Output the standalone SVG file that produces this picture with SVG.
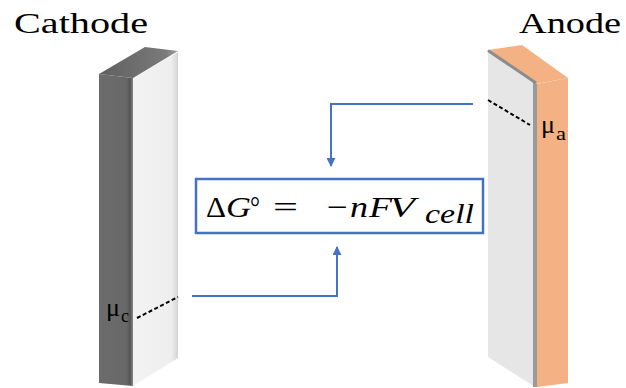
<svg xmlns="http://www.w3.org/2000/svg" width="626" height="388" viewBox="0 0 626 388">
<defs>
<style>
.conn{fill:none;stroke:#4472C4;stroke-width:2}
.dash{fill:none;stroke:#000;stroke-width:2;stroke-dasharray:4 2.5}
</style>
<marker id="arr" viewBox="0 0 10 10" refX="9" refY="5" markerWidth="4.5" markerHeight="4.5" orient="auto" markerUnits="strokeWidth">
<path d="M0,0 L10,5 L0,10 z" fill="#4472C4"/>
</marker>
<linearGradient id="gTopC" x1="0" y1="0" x2="1" y2="0">
<stop offset="0" stop-color="#5f5f5f"/>
<stop offset="0.85" stop-color="#7a7a7a"/>
<stop offset="1" stop-color="#a0a0a0"/>
</linearGradient>
<linearGradient id="gLightC" x1="0" y1="0" x2="1" y2="0">
<stop offset="0" stop-color="#f3f3f3"/>
<stop offset="0.85" stop-color="#eeeeee"/>
<stop offset="1" stop-color="#d4d4d4"/>
</linearGradient>
<linearGradient id="gDarkC" x1="0" y1="0" x2="1" y2="0">
<stop offset="0" stop-color="#6c6c6c"/>
<stop offset="0.8" stop-color="#686868"/>
<stop offset="0.92" stop-color="#555555"/>
<stop offset="1" stop-color="#8a8a8a"/>
</linearGradient>
</defs>
<rect width="626" height="388" fill="#fff"/>

<g id="cathode" font-family="'Liberation Serif', serif">
<polygon points="99,74 133,78 133,386 99,383" fill="url(#gDarkC)"/>
<polygon points="133,78 178,52 178,358 133,386" fill="url(#gLightC)"/>
<polygon points="99,74 145,47 178,51 133,78" fill="url(#gTopC)"/>
<text x="14" y="33" font-size="30" textLength="134" lengthAdjust="spacingAndGlyphs">Cathode</text>
<text x="106" y="316" font-size="25" textLength="14" lengthAdjust="spacingAndGlyphs">μ</text>
<text x="121" y="321.5" font-size="18" textLength="8" lengthAdjust="spacingAndGlyphs">c</text>
</g>

<g id="anode" font-family="'Liberation Serif', serif">
<polygon points="488,51 535,82 535,387 488,357" fill="#e6e6e6"/>
<polygon points="533,81 538,84 538,387 533,387" fill="#9a9a9a"/>
<polygon points="537,84 568,78 568,383 537,387" fill="#f4b183"/>
<polygon points="488,50 522,45 568,78 536,84" fill="#f4b183"/>
<line x1="488" y1="50.5" x2="536" y2="83" stroke="#8c8c8c" stroke-width="3"/>
<text x="519" y="33" font-size="30" textLength="102" lengthAdjust="spacingAndGlyphs">Anode</text>
<text x="541" y="133" font-size="25" textLength="14" lengthAdjust="spacingAndGlyphs">μ</text>
<text x="556" y="139.5" font-size="18" textLength="10" lengthAdjust="spacingAndGlyphs">a</text>
</g>

<g id="equation" font-family="'Liberation Serif', serif">
<rect x="196" y="179" width="287" height="54" fill="#fff" stroke="#4472C4" stroke-width="2.5"/>
<text x="206" y="216.5" font-size="30" textLength="20" lengthAdjust="spacingAndGlyphs">Δ</text>
<text x="226" y="216.5" font-size="30" font-style="italic" textLength="25" lengthAdjust="spacingAndGlyphs">G</text>
<text x="250" y="216.5" font-size="30" textLength="10" lengthAdjust="spacingAndGlyphs">°</text>
<text x="273" y="216.5" font-size="30" textLength="25" lengthAdjust="spacingAndGlyphs">=</text>
<text x="327" y="216.5" font-size="30" textLength="21" lengthAdjust="spacingAndGlyphs">−</text>
<text x="350" y="216.5" font-size="30" font-style="italic" textLength="18" lengthAdjust="spacingAndGlyphs">n</text>
<text x="369" y="216.5" font-size="30" font-style="italic" textLength="23" lengthAdjust="spacingAndGlyphs">F</text>
<text x="389" y="216.5" font-size="30" font-style="italic" textLength="26" lengthAdjust="spacingAndGlyphs">V</text>
<text x="425" y="223" font-size="27" font-style="italic" textLength="49" lengthAdjust="spacingAndGlyphs">cell</text>
</g>

<g id="connectors">
<path class="conn" d="M473,104 H331 V166" marker-end="url(#arr)"/>
<path class="conn" d="M192,296 H337 V247" marker-end="url(#arr)"/>
<line class="dash" x1="137" y1="318" x2="178" y2="297"/>
<line class="dash" x1="488" y1="100" x2="530" y2="125"/>
</g>
</svg>
